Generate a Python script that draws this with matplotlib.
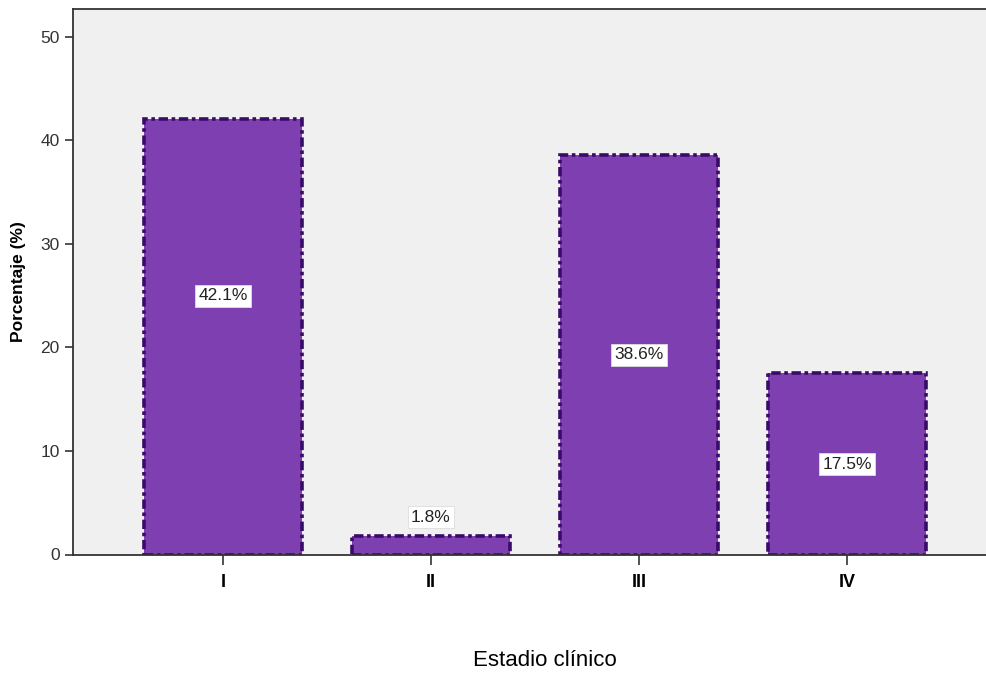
import matplotlib
matplotlib.use("Agg")
import matplotlib.pyplot as plt

# Porcentaje de pacientes por estadio clínico
estadios = ["I", "II", "III", "IV"]
porcentajes = [42.1, 1.8, 38.6, 17.5]
etiquetas = ["42.1%", "1.8%", "38.6%", "17.5%"]
# altura (en %) donde se coloca cada etiqueta
pos_etiquetas = [25.0, 3.6, 19.3, 8.7]

plt.rcParams["font.family"] = ["Liberation Sans", "DejaVu Sans"]

fig = plt.figure(figsize=(9.87, 6.77), dpi=100)
ax = fig.add_axes([73 / 987, 1 - 554.5 / 677, 1 - 73 / 987, (554.5 - 9) / 677])
ax.set_facecolor("#f0f0f0")

x = range(len(estadios))
ax.bar(x, porcentajes, width=0.76, color="#7e3fb1", edgecolor="#3a0a6a",
       linewidth=2.6, linestyle=(0, (2.6, 1.0, 1.0, 1.0)), zorder=2)

for xi, txt, yi in zip(x, etiquetas, pos_etiquetas):
    ax.text(xi, yi, txt, ha="center", va="center", fontsize=12.5, color="#222222",
            bbox=dict(boxstyle="square,pad=0.2", fc="white", ec="#dddddd", lw=0.6),
            zorder=3)

ax.set_xlim(-0.721, 3.673)
ax.set_ylim(0, 52.7)
ax.set_yticks([0, 10, 20, 30, 40, 50])
ax.set_xticks(list(x))
ax.set_xticklabels(estadios, fontweight="bold", fontsize=13)
ax.tick_params(axis="y", labelsize=12.5, labelcolor="#333333", length=6, width=1.2, color="#333333")
ax.tick_params(axis="x", length=7, width=1.2, color="#333333", pad=7)

ax.spines["right"].set_visible(False)
for s in ["left", "bottom", "top"]:
    ax.spines[s].set_color("#333333")
    ax.spines[s].set_linewidth(1.3)

ax.set_ylabel("Porcentaje (%)", fontweight="bold", fontsize=12.5)
ax.yaxis.set_label_coords(-(73 - 26) / 914, 0.5)
fig.text(545 / 987, 1 - 660 / 677, "Estadio clínico", ha="center", va="center", fontsize=16)

fig.savefig("out.png", dpi=100)
